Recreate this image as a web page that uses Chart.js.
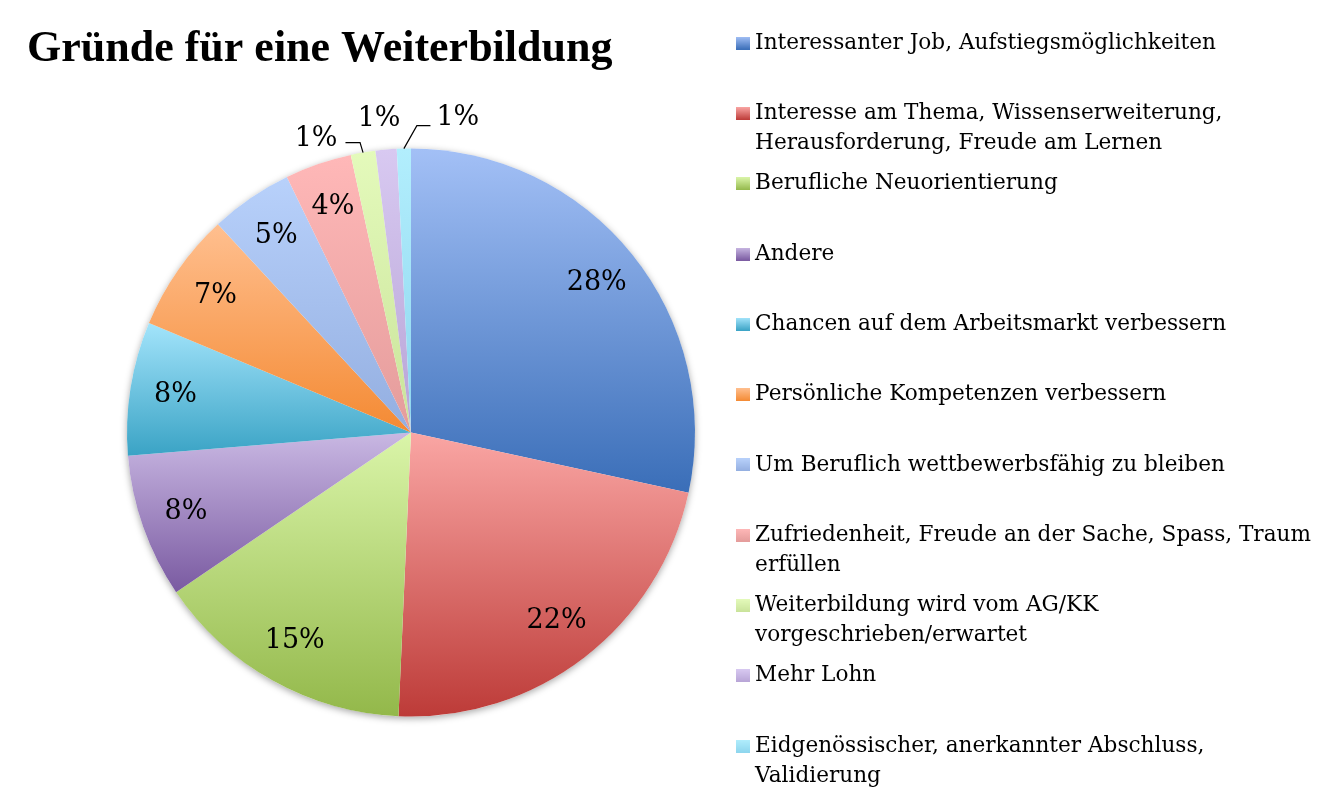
<!DOCTYPE html>
<html>
<head>
<meta charset="utf-8">
<script src="https://cdn.jsdelivr.net/npm/chart.js@4.4.1/dist/chart.umd.min.js"></script>
<style>
  html, body { margin: 0; background: #fff; }
  #wrap { width: 1325px; height: 793px; }
</style>
</head>
<body>
<div id="wrap"><canvas id="chart-gruende"></canvas></div>
<script>
// Daten
const titel = 'Gründe für eine Weiterbildung';
const gruende = [
  ['Interessanter Job, Aufstiegsmöglichkeiten'],
  ['Interesse am Thema, Wissenserweiterung,', 'Herausforderung, Freude am Lernen'],
  ['Berufliche Neuorientierung'],
  ['Andere'],
  ['Chancen auf dem Arbeitsmarkt verbessern'],
  ['Persönliche Kompetenzen verbessern'],
  ['Um Beruflich wettbewerbsfähig zu bleiben'],
  ['Zufriedenheit, Freude an der Sache, Spass, Traum', 'erfüllen'],
  ['Weiterbildung wird vom AG/KK', 'vorgeschrieben/erwartet'],
  ['Mehr Lohn'],
  ['Eidgenössischer, anerkannter Abschluss,', 'Validierung'],
];
const anteile = [28.4, 22.3, 14.8, 8.2, 7.6, 6.8, 4.7, 3.8, 1.4, 1.2, 0.8];

// Verlauf je Segment: oben hell, unten dunkel
const farbenHell   = ['#A3C0F6', '#FAA6A4', '#DAF5A9', '#C9B8E3', '#A3E4FB', '#FFBF8F', '#B8D1FB', '#FFB8B8', '#E4FABB', '#D8C9F1', '#B2EEFD'];
const farbenDunkel = ['#3A6EB8', '#BD3B38', '#93B84A', '#7A5AA1', '#3AA3C5', '#F48A33', '#93AEE0', '#E49C9B', '#C9E39A', '#B7A4D6', '#8ED6EE'];

const kreisVersatz = 63;   // Platz links vom Kreis (Titel steht weiter links)

function verlauf(c) {
  const i = c.dataIndex;
  const arc = c.chart.getDatasetMeta(0).data[i];
  if (!arc || !arc.outerRadius) return farbenHell[i];
  const { x, y, startAngle, endAngle, outerRadius: r } = arc;
  let y0 = Math.min(y, y + r * Math.sin(startAngle), y + r * Math.sin(endAngle));
  let y1 = Math.max(y, y + r * Math.sin(startAngle), y + r * Math.sin(endAngle));
  for (let k = -1; k <= 2; k++) {
    const oben = -Math.PI / 2 + k * 2 * Math.PI, unten = Math.PI / 2 + k * 2 * Math.PI;
    if (oben >= startAngle && oben <= endAngle) y0 = y - r;
    if (unten >= startAngle && unten <= endAngle) y1 = y + r;
  }
  const g = c.chart.ctx.createLinearGradient(0, y0, 0, y1);
  g.addColorStop(0, farbenHell[i]);
  g.addColorStop(1, farbenDunkel[i]);
  return g;
}

function marker(i) {
  const cv = document.createElement('canvas');
  cv.width = 14; cv.height = 13;
  const cx = cv.getContext('2d');
  const g = cx.createLinearGradient(0, 0, 0, 13);
  g.addColorStop(0, farbenHell[i]);
  g.addColorStop(1, farbenDunkel[i]);
  cx.fillStyle = g;
  cx.fillRect(0, 0, 14, 13);
  return cv;
}

const kreisLayout = {
  id: 'kreisLayout',
  afterLayout(chart) {
    chart.chartArea.left += kreisVersatz;
    chart.chartArea.width = chart.chartArea.right - chart.chartArea.left;
  }
};

const schatten = {
  id: 'schatten',
  beforeDatasetsDraw(chart) {
    const arc = chart.getDatasetMeta(0).data[0];
    if (!arc) return;
    const ctx = chart.ctx;
    ctx.save();
    ctx.shadowColor = 'rgba(0,0,0,0.35)';
    ctx.shadowBlur = 7;
    ctx.shadowOffsetY = 2;
    ctx.fillStyle = '#fff';
    ctx.beginPath();
    ctx.arc(arc.x, arc.y, arc.outerRadius, 0, 2 * Math.PI);
    ctx.fill();
    ctx.restore();
  }
};

// kleine Segmente: Beschriftung ausserhalb, teils mit Linie
const hinweise = {
  8:  { dx: -47, dy: -14, knick: [-3, -10], seite: 'links' },
  9:  { dx: -7,  dy: -31 },
  10: { dx: 54,  dy: -31, knick: [13, -23], seite: 'rechts' },
};

const prozentLabels = {
  id: 'prozentLabels',
  afterDatasetsDraw(chart) {
    const ctx = chart.ctx;
    const meta = chart.getDatasetMeta(0);
    const summe = anteile.reduce((a, b) => a + b, 0);
    ctx.save();
    ctx.font = '27px "DejaVu Serif"';
    ctx.fillStyle = '#000';
    ctx.strokeStyle = '#000';
    ctx.lineWidth = 1.2;
    ctx.textAlign = 'center';
    ctx.textBaseline = 'middle';
    meta.data.forEach((arc, i) => {
      const txt = Math.round(anteile[i] / summe * 100) + '%';
      const mitte = (arc.startAngle + arc.endAngle) / 2;
      const h = hinweise[i];
      if (!h) {
        const r = arc.outerRadius * 0.84;
        ctx.fillText(txt, arc.x + r * Math.cos(mitte), arc.y + r * Math.sin(mitte));
        return;
      }
      const ax = arc.x + arc.outerRadius * Math.cos(mitte);
      const ay = arc.y + arc.outerRadius * Math.sin(mitte);
      const tx = ax + h.dx, ty = ay + h.dy;
      ctx.fillText(txt, tx, ty);
      if (h.knick) {
        const kx = ax + h.knick[0], ky = ay + h.knick[1];
        const halb = ctx.measureText(txt).width / 2;
        const ex = h.seite === 'links' ? tx + halb + 8 : tx - halb - 6;
        ctx.beginPath();
        ctx.moveTo(ax, ay);
        ctx.lineTo(kx, ky);
        ctx.lineTo(ex, ky);
        ctx.stroke();
      }
    });
    ctx.restore();
  }
};

const grafik = new Chart(document.getElementById('chart-gruende'), {
  type: 'pie',
  data: {
    labels: gruende,
    datasets: [{
      data: anteile,
      backgroundColor: verlauf,
      borderWidth: 0,
      radius: 284,
    }]
  },
  options: {
    responsive: true,
    maintainAspectRatio: false,
    animation: false,
    layout: { padding: { top: 22, left: 27, right: 0, bottom: 0 } },
    plugins: {
      title: {
        display: true, text: titel, align: 'start', color: '#000',
        font: { family: '"Liberation Serif"', size: 44, weight: 'bold', lineHeight: 1 },
        padding: { top: 6, bottom: 0 }
      },
      legend: {
        position: 'right', align: 'start', maxWidth: 593,
        labels: {
          usePointStyle: true, boxWidth: 2, padding: 10.3, color: '#000',
          font: { family: '"DejaVu Serif"', size: 21.6, lineHeight: '30px' },
          generateLabels: () => gruende.map((g, i) => ({
            text: g.length > 1 ? g : [g[0], ''],
            pointStyle: marker(i),
            fillStyle: farbenHell[i],
            strokeStyle: 'transparent',
            lineWidth: 0,
            fontColor: '#000',
            hidden: false,
            index: i
          }))
        }
      },
      tooltip: { enabled: false }
    }
  },
  plugins: [kreisLayout, schatten, prozentLabels]
});
grafik.update();
</script>
</body>
</html>
